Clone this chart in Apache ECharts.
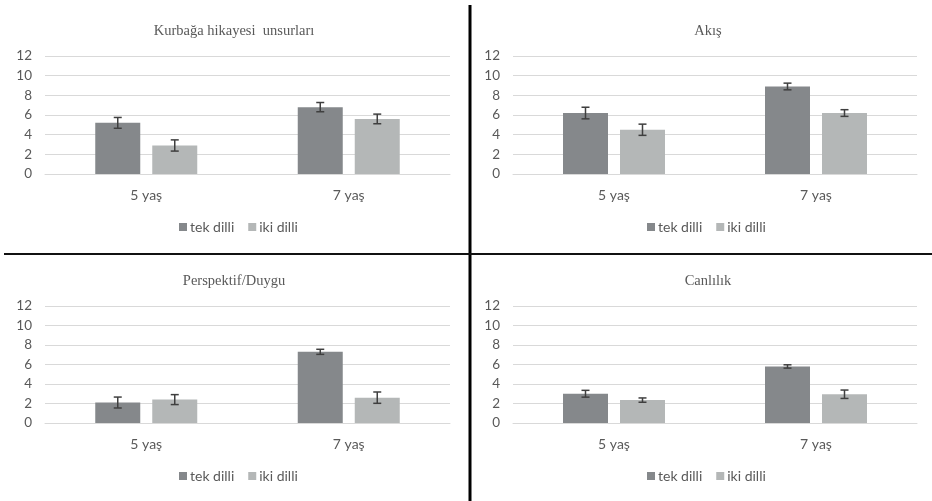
<!DOCTYPE html>
<html><head><meta charset="utf-8">
<script src="https://cdn.jsdelivr.net/npm/echarts@6/dist/echarts.min.js"></script>
<style>html,body{margin:0;padding:0;background:#fff}#c{width:932px;height:501px}</style>
</head><body><div id="c"></div>
<script>
const categories = ['5 yaş', '7 yaş'];
const seriesNames = ['tek dilli', 'iki dilli'];
const yTicks = [0, 2, 4, 6, 8, 10, 12];
const panelTitles = ['Kurbağa hikayesi  unsurları', 'Akış', 'Perspektif/Duygu', 'Canlılık'];

// values [5 yaş, 7 yaş]
const kurbagaTek = [5.2, 6.8];
const kurbagaIki = [2.9, 5.6];
const akisTek = [6.2, 8.9];
const akisIki = [4.5, 6.2];
const perspektifTek = [2.1, 7.3];
const perspektifIki = [2.4, 2.6];
const canlilikTek = [3.0, 5.8];
const canlilikIki = [2.35, 2.95];

// error half-widths
const kurbagaTekErr = [0.55, 0.47];
const kurbagaIkiErr = [0.57, 0.49];
const akisTekErr = [0.59, 0.34];
const akisIkiErr = [0.57, 0.34];
const perspektifTekErr = [0.56, 0.26];
const perspektifIkiErr = [0.51, 0.58];
const canlilikTekErr = [0.35, 0.17];
const canlilikIkiErr = [0.22, 0.43];

const panels = [
  [kurbagaTek, kurbagaIki, kurbagaTekErr, kurbagaIkiErr],
  [akisTek, akisIki, akisTekErr, akisIkiErr],
  [perspektifTek, perspektifIki, perspektifTekErr, perspektifIkiErr],
  [canlilikTek, canlilikIki, canlilikTekErr, canlilikIkiErr]
];

const colors = ['#85888b', '#b4b7b7'];
const textColor = '#595959';
const sansFont = 'Lato';
const BAR_W = 45, BAR_GAP = 12;

const grids = [
  {left: 45, width: 405, top: 56, height: 118},
  {left: 513, width: 404, top: 56, height: 118},
  {left: 45, width: 405, top: 306, height: 117},
  {left: 513, width: 404, top: 306, height: 117}
];
const titleCenters = [229, 703, 229, 703];
const titleTops = [19, 19, 269, 269];
const legendLefts = [179, 647, 179, 647];
const legendTops = [220, 220, 469, 469];

const option = {
  animation: false,
  backgroundColor: '#fff',
  title: panelTitles.map((t, i) => ({
    text: t, left: titleCenters[i], top: titleTops[i], textAlign: 'center',
    textStyle: {fontFamily: 'Liberation Serif', fontSize: 14.5, fontWeight: 'normal', color: textColor}
  })),
  grid: grids,
  legend: legendTops.map((top, i) => ({
    data: seriesNames, top: top, left: legendLefts[i], padding: 0,
    itemWidth: 8, itemHeight: 8, itemGap: 14, icon: 'rect',
    textStyle: {fontFamily: sansFont, fontSize: 14, color: textColor, padding: [0, 0, 0, -2]}
  })),
  xAxis: grids.map((g, i) => ({
    type: 'category', gridIndex: i, data: categories,
    axisLine: {lineStyle: {color: '#d9d9d9'}}, axisTick: {show: false},
    axisLabel: {color: textColor, fontFamily: sansFont, fontSize: 14, margin: 14}
  })),
  yAxis: grids.map((g, i) => ({
    type: 'value', gridIndex: i, min: yTicks[0], max: yTicks[yTicks.length - 1],
    interval: yTicks[1] - yTicks[0],
    axisLine: {show: false}, axisTick: {show: false},
    axisLabel: {color: textColor, fontFamily: sansFont, fontSize: 13.5, margin: 13},
    splitLine: {lineStyle: {color: '#d9d9d9'}}
  })),
  series: [],
  graphic: [
    {type: 'line', shape: {x1: 470, y1: 5, x2: 470, y2: 501}, style: {stroke: '#000', lineWidth: 3}},
    {type: 'line', shape: {x1: 4, y1: 254, x2: 932, y2: 254}, style: {stroke: '#111', lineWidth: 2}}
  ]
};

panels.forEach((p, i) => {
  [0, 1].forEach(s => {
    option.series.push({
      type: 'bar', name: seriesNames[s], xAxisIndex: i, yAxisIndex: i,
      data: p[s], barWidth: BAR_W, barGap: (BAR_GAP / BAR_W * 100) + '%',
      itemStyle: {color: colors[s]}
    });
  });
  [0, 1].forEach(s => {
    const vals = p[s], errs = p[s + 2];
    const off = (s === 0 ? -1 : 1) * (BAR_W + BAR_GAP) / 2;
    option.series.push({
      type: 'custom', name: seriesNames[s] + ' err', xAxisIndex: i, yAxisIndex: i,
      z: 10,
      data: vals.map((v, k) => [k, v - errs[k], v + errs[k]]),
      renderItem: function (params, api) {
        const lo = api.coord([api.value(0), api.value(1)]);
        const hi = api.coord([api.value(0), api.value(2)]);
        const x = lo[0] + off, hw = 4;
        const st = {stroke: '#3f3f3f', lineWidth: 1.5};
        return {type: 'group', children: [
          {type: 'line', shape: {x1: x, y1: lo[1], x2: x, y2: hi[1]}, style: st},
          {type: 'line', shape: {x1: x - hw, y1: lo[1], x2: x + hw, y2: lo[1]}, style: st},
          {type: 'line', shape: {x1: x - hw, y1: hi[1], x2: x + hw, y2: hi[1]}, style: st}
        ]};
      }
    });
  });
});

const chart = echarts.init(document.getElementById('c'), null, {renderer: 'canvas'});
chart.setOption(option);
</script>
</body></html>
